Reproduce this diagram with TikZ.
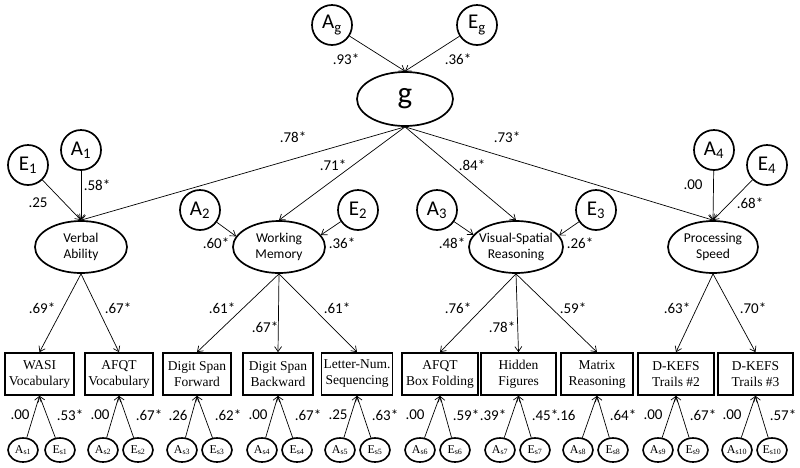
\documentclass[tikz,border=0pt]{standalone}
\usepackage{fontspec}
\setmainfont{Liberation Serif}
\newfontfamily\calib{Carlito}
\usetikzlibrary{shapes.geometric,arrows.meta}
\tikzset{
  lat/.style={circle, draw, line width=1.7pt, minimum size=40pt, inner sep=0pt, font=\calib\fontsize{21}{23}\selectfont},
  fac/.style={ellipse, draw, line width=1.7pt, minimum width=92pt, minimum height=52pt, inner sep=0pt},
  factext/.style={inner sep=0pt, align=center, font=\calib\fontsize{13.5}{16}\selectfont},
  obs/.style={rectangle, draw, line width=1.7pt, minimum height=42pt, inner sep=0pt, align=center, font=\fontsize{13.5}{16}\selectfont},
  res/.style={ellipse, draw, line width=1.6pt, minimum width=30pt, minimum height=24pt, inner sep=0pt, font=\fontsize{12}{13}\selectfont},
  lbl/.style={font=\calib\fontsize{15}{17}\selectfont, inner sep=0pt},
  arr/.style={-{Straight Barb[length=5pt,width=7pt]}, line width=0.7pt}
}
\begin{document}
\begin{tikzpicture}[x=1pt,y=-1pt]
\useasboundingbox (0,0) rectangle (800,467);
% top
\node[lat] (Ag) at (332,25) {A\textsubscript{g}};
\node[lat] (Eg) at (477,25) {E\textsubscript{g}};
\node[ellipse, draw, line width=1.7pt, minimum width=96pt, minimum height=54pt, inner sep=0pt, font=\calib\fontsize{31}{33}\selectfont] (g) at (405,99) {g};
% factors
\node[fac] (F1) at (81,247) {};
\node[fac] (F2) at (279,247) {};
\node[fac, minimum width=94pt] (F3) at (516,247) {};
\node[fac, minimum width=90pt] (F4) at (713,247) {};
\node[factext] (T1) at (F1) {Verbal\\Ability};
\node[factext] (T2) at (F2) {Working\\Memory};
\node[factext] (T3) at (F3) {Visual-Spatial\\Reasoning};
\node[factext] (T4) at (F4) {Processing\\Speed};
% factor A/E
\node[lat] (E1) at (28,165) {E\textsubscript{1}};
\node[lat] (A1) at (81,150) {A\textsubscript{1}};
\node[lat] (A2) at (200,210) {A\textsubscript{2}};
\node[lat] (E2) at (358,210) {E\textsubscript{2}};
\node[lat] (A3) at (437,210) {A\textsubscript{3}};
\node[lat] (E3) at (596,210) {E\textsubscript{3}};
\node[lat] (A4) at (714,150) {A\textsubscript{4}};
\node[lat] (E4) at (767,165) {E\textsubscript{4}};
% boxes
\node[obs, minimum width=69pt] (b1) at (39.5,374) {WASI\\Vocabulary};
\node[obs, minimum width=68pt] (b2) at (119,374) {AFQT\\Vocabulary};
\node[obs, minimum width=68pt] (b3) at (197,374) {Digit Span\\Forward};
\node[obs, minimum width=70pt] (b4) at (278,374) {Digit Span\\Backward};
\node[obs, minimum width=71pt] (b5) at (357,374) {Letter-Num.\\Sequencing};
\node[obs, minimum width=76pt] (b6) at (440,374) {AFQT\\Box Folding};
\node[obs, minimum width=75pt] (b7) at (518.5,374) {Hidden\\Figures};
\node[obs, minimum width=72pt] (b8) at (597,374) {Matrix\\Reasoning};
\node[obs, minimum width=76pt] (b9) at (676,374) {D-KEFS\\Trails \#2};
\node[obs, minimum width=75pt] (b10) at (755.5,374) {D-KEFS\\Trails \#3};
% residual A/E
\foreach \i/\ax/\ex in {1/23/60, 2/103/138, 3/182/217, 4/262/297, 5/340/375, 6/420/455, 7/500/535, 8/578/613, 9/658/693, 10/737/772} {
  \node[res] (As\i) at (\ax,450) {A\textsubscript{s\i}};
  \node[res] (Es\i) at (\ex,450) {E\textsubscript{s\i}};
  \draw[arr] (As\i) -- (b\i.south);
  \draw[arr] (Es\i) -- (b\i.south);
}
% connectors top
\draw[arr] (Ag) -- (g.north);
\draw[arr] (Eg) -- (g.north);
\draw[arr] (g.south) -- (F1.north);
\draw[arr] (g.south) -- (F2.north);
\draw[arr] (g.south) -- (F3.north);
\draw[arr] (g.south) -- (F4.north);
\draw[arr] (E1) -- (F1.north);
\draw[arr] (A1) -- (F1.north);
\draw[arr] (A2) -- (F2.166);
\draw[arr] (E2) -- (F2.16);
\draw[arr] (A3) -- (F3.164);
\draw[arr] (E3) -- (F3.15);
\draw[arr] (A4) -- (F4.north);
\draw[arr] (E4) -- (F4.north);
% factor to boxes
\draw[arr] (F1.south) -- (b1.north);
\draw[arr] (F1.south) -- (b2.north);
\draw[arr] (F2.south) -- (b3.north);
\draw[arr] (F2.south) -- (b4.north);
\draw[arr] (F2.south) -- (b5.north);
\draw[arr] (F3.south) -- (b6.north);
\draw[arr] (F3.south) -- (b7.north);
\draw[arr] (F3.south) -- (b8.north);
\draw[arr] (F4.south) -- (b9.north);
\draw[arr] (F4.south) -- (b10.north);
% labels
\node[lbl] (l1) at (346,59) {.93*};
\node[lbl] (l2) at (458,59) {.36*};
\node[lbl] (l3) at (293,137) {.78*};
\node[lbl] (l4) at (507,137) {.73*};
\node[lbl] (l5) at (333,165) {.71*};
\node[lbl] (l6) at (472,165) {.84*};
\node[lbl] (l7) at (97,185) {.58*};
\node[lbl] (l8) at (38,203) {.25};
\node[lbl] (l9) at (693,185) {.00};
\node[lbl] (l10) at (750,203) {.68*};
\node[lbl] (l11) at (216,243) {.60*};
\node[lbl] (l12) at (342,243) {.36*};
\node[lbl] (l13) at (452,243) {.48*};
\node[lbl] (l14) at (580,243) {.26*};
\node[lbl] (l15) at (42,308) {.69*};
\node[lbl] (l16) at (118,308) {.67*};
\node[lbl] (l17) at (222,308) {.61*};
\node[lbl] (l18) at (265,327) {.67*};
\node[lbl] (l19) at (337,308) {.61*};
\node[lbl] (l20) at (458,308) {.76*};
\node[lbl] (l21) at (502,327) {.78*};
\node[lbl] (l22) at (573,308) {.59*};
\node[lbl] (l23) at (677,308) {.63*};
\node[lbl] (l24) at (753,308) {.70*};
\foreach \k/\x/\t in {1/20/.00, 2/70/.53*, 3/100/.00, 4/149/.67*, 5/178/.26, 6/228/.62*, 7/258/.00, 8/308/.67*, 9/338/.25, 10/385/.63*, 11/415/.00, 12/466/.59*, 13/493/.39*, 14/545/.45*, 15/566/.16, 16/623/.64*, 17/653/.00, 18/703/.67*, 19/732/.00, 20/783/.57*} {
  \node[lbl] (m\k) at (\x,415) {\t};
}
\end{tikzpicture}
\end{document}
